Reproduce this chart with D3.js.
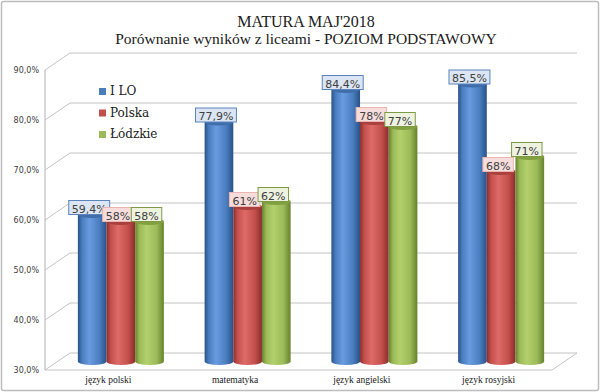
<!DOCTYPE html>
<html><head><meta charset="utf-8">
<script src="https://cdn.jsdelivr.net/npm/d3@7"></script>
<style>body{margin:0;background:#fff}svg{display:block}</style>
</head><body>
<script>
const categories = ["język polski", "matematyka", "język angielski", "język rosyjski"];
const seriesNames = ["I LO", "Polska", "Łódzkie"];
const iLO = [59.4, 77.9, 84.4, 85.5];
const polska = [58, 61, 78, 68];
const lodzkie = [58, 62, 77, 71];
const labelILO = ["59,4%", "77,9%", "84,4%", "85,5%"];
const labelPolska = ["58%", "61%", "78%", "68%"];
const labelLodzkie = ["58%", "62%", "77%", "71%"];
const yTicks = [30, 40, 50, 60, 70, 80, 90];

const W = 600, H = 392;
const svg = d3.select("body").append("svg").attr("width", W).attr("height", H);
const defs = svg.append("defs");

const series = [
  {name: seriesNames[0], values: iLO, labels: labelILO, light: "#6a9be0", mid: "#4a7ec0", dark: "#2a5187", top: "#3f6eab", boxFill: "#dbe5f3", boxStroke: "#5b84bd", legend: "#4a7ebb"},
  {name: seriesNames[1], values: polska, labels: labelPolska, light: "#dd6b67", mid: "#c4504c", dark: "#8a2d2b", top: "#a8403d", boxFill: "#f6dcdb", boxStroke: "#e9b6b4", legend: "#c0504d"},
  {name: seriesNames[2], values: lodzkie, labels: labelLodzkie, light: "#b3d06c", mid: "#9bbb59", dark: "#66822c", top: "#82a03f", boxFill: "#eef3df", boxStroke: "#7f9a45", legend: "#9bbb59"}
];

series.forEach((s, i) => {
  const g = defs.append("linearGradient").attr("id", "g" + i).attr("x1", 0).attr("x2", 1).attr("y1", 0).attr("y2", 0);
  g.append("stop").attr("offset", "0%").attr("stop-color", s.dark);
  g.append("stop").attr("offset", "15%").attr("stop-color", s.mid);
  g.append("stop").attr("offset", "40%").attr("stop-color", s.light);
  g.append("stop").attr("offset", "75%").attr("stop-color", s.mid);
  g.append("stop").attr("offset", "100%").attr("stop-color", s.dark);
});

// outer border
svg.append("rect").attr("x", 1.5).attr("y", 1.5).attr("width", W - 3).attr("height", H - 3)
  .attr("fill", "#fff").attr("stroke", "#bdbdbd").attr("stroke-width", 1.5).attr("rx", 2);

// 3D offsets
const DX = 25, DY = -17;
const x0 = 45, x1 = 552;
const y = d3.scaleLinear().domain([30, 90]).range([370, 70]);
const x = d3.scaleBand().domain(categories).range([x0, x1]);
const xs = d3.scaleBand().domain(seriesNames).range([-43, 43]);

const grid = svg.append("g").attr("stroke", "#c4c4c4").attr("stroke-width", 1).attr("fill", "none");
grid.append("line").attr("x1", x0).attr("x2", x0).attr("y1", y(90)).attr("y2", y(30)).attr("stroke", "#b0b0b0");
yTicks.forEach(t => {
  grid.append("polyline").attr("points", [[x0, y(t)], [x0 + DX, y(t) + DY], [x1 + DX, y(t) + DY]].map(p => p.join(",")).join(" "));
});
grid.append("polyline").attr("points", [[x0, y(30)], [x1, y(30)], [x1 + DX, y(30) + DY]].map(p => p.join(",")).join(" "));

// y labels
svg.append("g").selectAll("text").data(yTicks).join("text")
  .attr("x", 39).attr("y", d => y(d) + 3)
  .attr("text-anchor", "end").attr("font-family", "DejaVu Sans").attr("font-size", 8).attr("fill", "#404040")
  .text(d => d3.format(".1f")(d).replace(".", ",") + "%");

// category labels
svg.append("g").selectAll("text").data(categories).join("text")
  .attr("x", d => x(d) + x.bandwidth() / 2).attr("y", 383)
  .attr("text-anchor", "middle").attr("font-family", "Liberation Serif").attr("font-size", 9.5).attr("fill", "#202020")
  .text(d => d);

// bars (cylinders) in middle depth
const ym = v => y(v) + DY / 2;
const bw = xs.bandwidth();
const ry = 3.5;
const bars = svg.append("g");
categories.forEach((c, ci) => {
  series.forEach((s, si) => {
    const cx = x(c) + x.bandwidth() / 2 + DX / 2 + xs(s.name) + bw / 2;
    const top = ym(s.values[ci]);
    const bot = ym(30);
    const g = bars.append("g");
    g.append("path")
      .attr("d", `M${cx - bw / 2},${top} L${cx - bw / 2},${bot} A${bw / 2},${ry} 0 0 0 ${cx + bw / 2},${bot} L${cx + bw / 2},${top} Z`)
      .attr("fill", `url(#g${si})`);
    g.append("ellipse").attr("cx", cx).attr("cy", top).attr("rx", bw / 2).attr("ry", ry)
      .attr("fill", s.top);
  });
});

// data labels
const lab = svg.append("g");
categories.forEach((c, ci) => {
  series.forEach((s, si) => {
    const cx = x(c) + x.bandwidth() / 2 + DX / 2 + xs(s.name) + bw / 2 - 3;
    const top = ym(s.values[ci]);
    const txt = s.labels[ci];
    const t = lab.append("text").attr("x", cx).attr("y", top - 2)
      .attr("text-anchor", "middle").attr("font-family", "DejaVu Sans").attr("font-size", 11).attr("fill", "#404040")
      .text(txt);
    const bb = t.node().getBBox();
    lab.insert("rect", () => t.node())
      .attr("x", bb.x - 3).attr("y", top - 14).attr("width", bb.width + 6).attr("height", 14)
      .attr("fill", s.boxFill).attr("stroke", s.boxStroke).attr("stroke-width", 1);
  });
});

// legend
const leg = svg.append("g");
series.forEach((s, i) => {
  const yy = 95 + i * 21.5;
  leg.append("rect").attr("x", 99).attr("y", yy - 7).attr("width", 7).attr("height", 7).attr("fill", s.legend);
  leg.append("text").attr("x", 110).attr("y", yy).attr("font-family", "DejaVu Serif").attr("font-size", 12)
    .attr("fill", "#202020").text(s.name);
});

// title
svg.append("text").attr("x", 306).attr("y", 27).attr("text-anchor", "middle")
  .attr("font-family", "Liberation Serif").attr("font-size", 16).attr("fill", "#202020").text("MATURA MAJ'2018");
svg.append("text").attr("x", 306).attr("y", 44).attr("text-anchor", "middle")
  .attr("font-family", "Liberation Serif").attr("font-size", 15.5).attr("fill", "#202020").text("Porównanie wyników z liceami - POZIOM PODSTAWOWY");
</script>
</body></html>
